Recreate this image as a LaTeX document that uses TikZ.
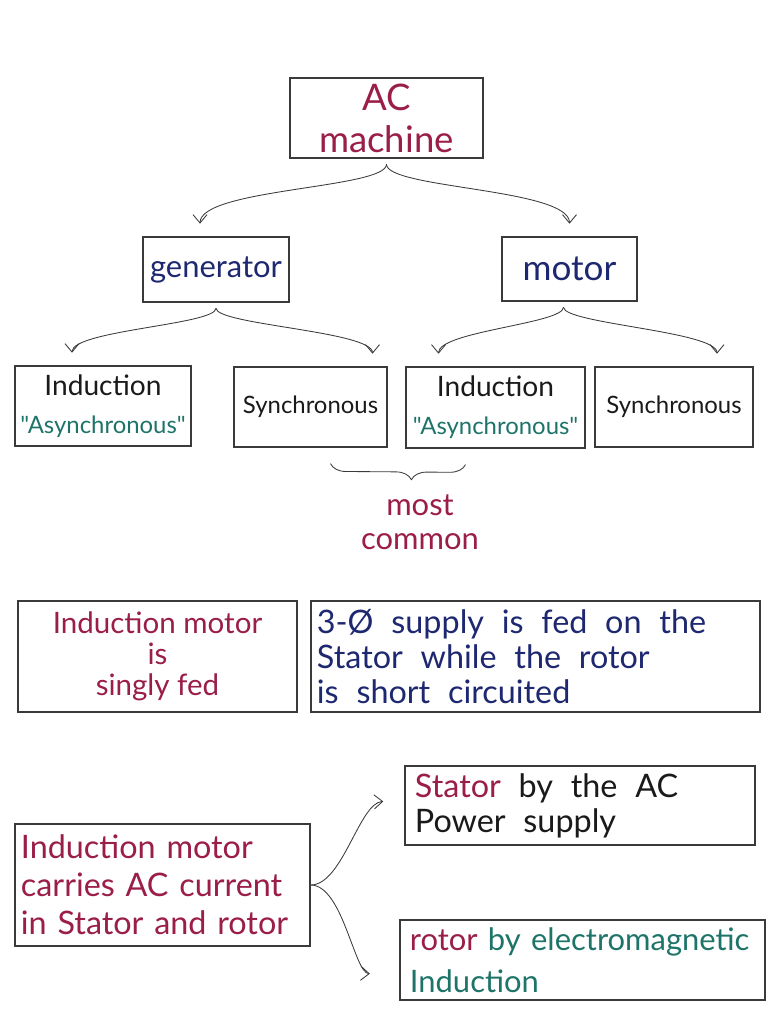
\documentclass[tikz,border=0pt]{standalone}
\usepackage{fontspec}
\setmainfont{Lato}[Ligatures=TeXOff]
\usetikzlibrary{arrows.meta,calc,decorations.pathreplacing}

\definecolor{inkred}{HTML}{9A1E48}
\definecolor{inkblue}{HTML}{1E2870}
\definecolor{inkteal}{HTML}{1E7468}
\definecolor{inkblack}{HTML}{1A1A1A}
\definecolor{pen}{HTML}{3A3A3A}

\newcommand{\widegaps}{\spaceskip=0.55em plus 0.2em\relax}

\begin{document}
\begin{tikzpicture}[x=0.025cm, y=-0.025cm,
    box/.style={draw=pen, line width=0.9pt, inner sep=0pt, align=center},
    textbox/.style={draw=pen, line width=0.9pt, inner xsep=0.15cm, inner ysep=0pt, align=left},
    link/.style={draw=pen, line width=0.6pt, -{Straight Barb[length=6pt,width=10pt]},
        shorten <=4pt, shorten >=9pt}]

\fill[white] (0,0) rectangle (768,1024);
\useasboundingbox (0,0) rectangle (768,1024);

% top of the tree
\node[box, minimum width=4.825cm, minimum height=2cm, text=inkred,
    font=\fontsize{26}{30}\selectfont] (ac) at (386.5,118) {AC\\machine};

\node[box, minimum width=3.65cm, minimum height=1.625cm, text=inkblue,
    font=\fontsize{22}{25}\selectfont] (gen) at (216,269.5) {generator};
\node[box, minimum width=3.375cm, minimum height=1.6cm, text=inkblue,
    font=\fontsize{25}{25}\selectfont] (motor) at (569.5,269) {motor};

% third row
\node[box, minimum width=4.4cm, minimum height=2cm, text=inkblack,
    font=\fontsize{17}{27}\selectfont] (ind1) at (103,406)
    {{\fontsize{20}{27}\selectfont Induction}\\\textcolor{inkteal}{"Asynchronous"}};
\node[box, minimum width=3.825cm, minimum height=2cm, text=inkblack,
    font=\fontsize{17}{20}\selectfont] (syn1) at (310.5,407) {Synchronous};
\node[box, minimum width=4.475cm, minimum height=2.025cm, text=inkblack,
    font=\fontsize{17}{27}\selectfont] (ind2) at (495.5,407.5)
    {{\fontsize{20}{27}\selectfont Induction}\\\textcolor{inkteal}{"Asynchronous"}};
\node[box, minimum width=3.95cm, minimum height=2cm, text=inkblack,
    font=\fontsize{17}{20}\selectfont] (syn2) at (674,407) {Synchronous};

\draw[link] (ac.south) .. controls +(0,30) and +(0,-48) .. ($(gen.north)+(-16,0)$);
\draw[link] (ac.south) .. controls +(0,30) and +(0,-48) .. (motor.north);
\draw[link] (gen.south) .. controls +(0,22) and +(0,-35) .. ($(ind1.north)+(-31,0)$);
\draw[link] (gen.south) .. controls +(0,22) and +(0,-35) .. ($(syn1.north)+(62,0)$);
\draw[link] ($(motor.south)+(-6,0)$) .. controls +(0,22) and +(0,-35) .. ($(ind2.north)+(-57,0)$);
\draw[link] ($(motor.south)+(-6,0)$) .. controls +(0,22) and +(0,-35) .. ($(syn2.north)+(43,0)$);

% brace under the induction boxes
\coordinate (braceL) at ($(syn1.south)+(20,16)$);
\coordinate (braceR) at ($(ind2.south)+(-30,16)$);
\draw[pen, line width=0.6pt, decorate, decoration={brace, mirror, amplitude=11pt, aspect=0.6}]
    (braceL) -- (braceR);
\node[text=inkred, align=center, font=\fontsize{22}{24}\selectfont] (common) at (420,522)
    {most\\common};

% middle row
\node[box, minimum width=6.975cm, minimum height=2.775cm, text=inkred,
    font=\fontsize{21}{22}\selectfont] (single) at (157.5,656.5)
    {Induction motor\\is\\singly fed};
\node[textbox, text width=10.925cm, minimum height=2.775cm, text=inkblue,
    font=\fontsize{23}{25}\selectfont] (supply) at (535.5,656.5)
    {\widegaps 3-Ø supply is fed on the\\Stator while the rotor\\is short circuited};

% bottom part
\node[textbox, text width=7.075cm, minimum height=3.05cm, text=inkred,
    font=\fontsize{23}{27}\selectfont] (carries) at (162.5,885)
    {Induction motor\\carries AC current\\in Stator and rotor};
\node[textbox, inner xsep=0.25cm, text width=8.25cm, minimum height=1.975cm, text=inkblack,
    font=\fontsize{23}{25}\selectfont] (stator) at (580,805.5)
    {\widegaps\textcolor{inkred}{Stator} by the AC\\Power supply};
\node[textbox, inner xsep=0.25cm, text width=8.625cm, minimum height=2cm, text=inkteal,
    font=\fontsize{22}{30}\selectfont] (rotor) at (582.5,960)
    {\textcolor{inkred}{rotor} by electromagnetic\\Induction};

\draw[link, shorten <=0pt, shorten >=15pt] (carries.east)
    .. controls +(32,0) and +(-45,2) .. ($(stator.west)+(0,-5)$);
\draw[link, shorten <=0pt, shorten >=21pt] (carries.east)
    .. controls +(32,0) and +(-45,-2) .. ($(rotor.west)+(0,15)$);

\end{tikzpicture}
\end{document}
